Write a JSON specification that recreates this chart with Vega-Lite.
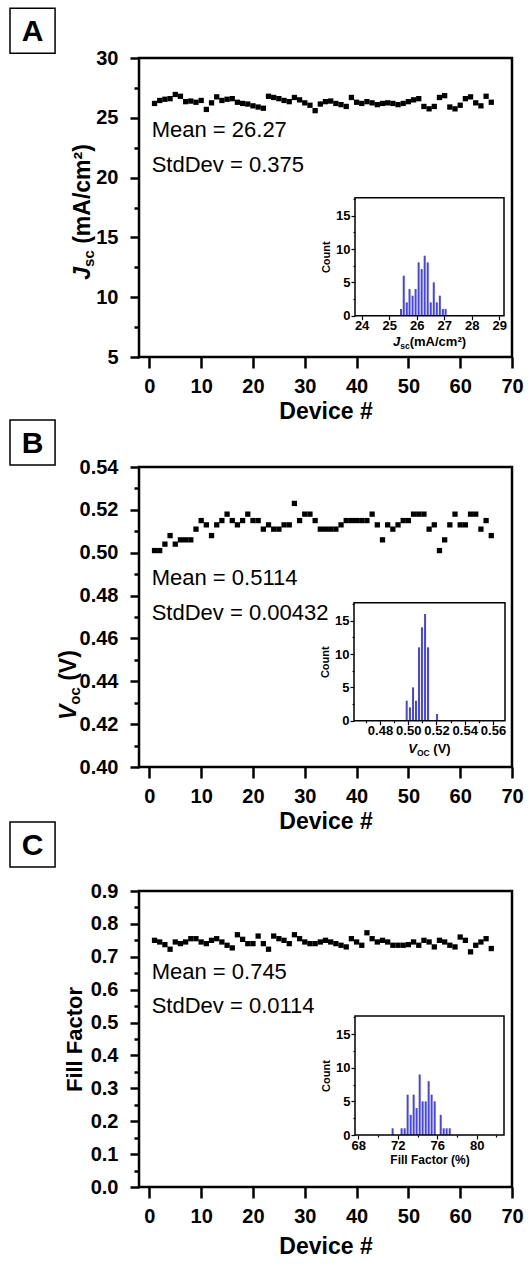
{
  "$schema": "https://vega.github.io/schema/vega-lite/v6.json",
  "width": 373,
  "height": 1272,
  "autosize": {"type": "none"},
  "padding": {"left": 139, "right": 17, "top": 0, "bottom": 0},
  "background": "white",
  "config": {
    "view": {"stroke": null},
    "font": "Liberation Sans",
    "axis": {
      "grid": false, "domain": false, "tickColor": "black", "labelColor": "black", "titleColor": "black",
      "labelFont": "Liberation Sans", "titleFont": "Liberation Sans", "labelFontWeight": "bold", "titleFontWeight": "bold",
      "labelOverlap": false, "labelFlush": false
    },
    "text": {"font": "Liberation Sans", "color": "black"}
  },
  "datasets": {
    "A": [
      {"device":1,"value":26.2},{"device":2,"value":26.45},{"device":3,"value":26.55},{"device":4,"value":26.6},{"device":5,"value":26.95},{"device":6,"value":26.8},{"device":7,"value":26.35},{"device":8,"value":26.4},{"device":9,"value":26.3},{"device":10,"value":26.45},
      {"device":11,"value":25.7},{"device":12,"value":26.25},{"device":13,"value":26.75},{"device":14,"value":26.45},{"device":15,"value":26.55},{"device":16,"value":26.6},{"device":17,"value":26.3},{"device":18,"value":26.2},{"device":19,"value":26.15},{"device":20,"value":26.0},
      {"device":21,"value":25.9},{"device":22,"value":25.8},{"device":23,"value":26.8},{"device":24,"value":26.7},{"device":25,"value":26.6},{"device":26,"value":26.45},{"device":27,"value":26.35},{"device":28,"value":26.7},{"device":29,"value":26.5},{"device":30,"value":26.25},
      {"device":31,"value":26.05},{"device":32,"value":25.6},{"device":33,"value":26.15},{"device":34,"value":26.35},{"device":35,"value":26.4},{"device":36,"value":26.2},{"device":37,"value":26.1},{"device":38,"value":25.95},{"device":39,"value":26.7},{"device":40,"value":26.3},
      {"device":41,"value":26.2},{"device":42,"value":26.35},{"device":43,"value":26.25},{"device":44,"value":26.1},{"device":45,"value":26.2},{"device":46,"value":26.25},{"device":47,"value":26.2},{"device":48,"value":26.1},{"device":49,"value":26.2},{"device":50,"value":26.35},
      {"device":51,"value":26.5},{"device":52,"value":26.6},{"device":53,"value":25.95},{"device":54,"value":25.75},{"device":55,"value":25.95},{"device":56,"value":26.7},{"device":57,"value":26.85},{"device":58,"value":25.9},{"device":59,"value":25.75},{"device":60,"value":26.05},
      {"device":61,"value":26.6},{"device":62,"value":26.75},{"device":63,"value":26.25},{"device":64,"value":26.0},{"device":65,"value":26.8},{"device":66,"value":26.3}
    ],
    "B": [
      {"device":1,"value":0.501},{"device":2,"value":0.501},{"device":3,"value":0.504},{"device":4,"value":0.508},{"device":5,"value":0.504},{"device":6,"value":0.506},{"device":7,"value":0.506},{"device":8,"value":0.506},{"device":9,"value":0.511},{"device":10,"value":0.515},
      {"device":11,"value":0.513},{"device":12,"value":0.508},{"device":13,"value":0.513},{"device":14,"value":0.515},{"device":15,"value":0.518},{"device":16,"value":0.515},{"device":17,"value":0.513},{"device":18,"value":0.515},{"device":19,"value":0.518},{"device":20,"value":0.515},
      {"device":21,"value":0.515},{"device":22,"value":0.511},{"device":23,"value":0.513},{"device":24,"value":0.511},{"device":25,"value":0.511},{"device":26,"value":0.513},{"device":27,"value":0.513},{"device":28,"value":0.523},{"device":29,"value":0.515},{"device":30,"value":0.518},
      {"device":31,"value":0.518},{"device":32,"value":0.515},{"device":33,"value":0.511},{"device":34,"value":0.511},{"device":35,"value":0.511},{"device":36,"value":0.511},{"device":37,"value":0.513},{"device":38,"value":0.515},{"device":39,"value":0.515},{"device":40,"value":0.515},
      {"device":41,"value":0.515},{"device":42,"value":0.515},{"device":43,"value":0.518},{"device":44,"value":0.513},{"device":45,"value":0.506},{"device":46,"value":0.513},{"device":47,"value":0.511},{"device":48,"value":0.513},{"device":49,"value":0.515},{"device":50,"value":0.515},
      {"device":51,"value":0.518},{"device":52,"value":0.518},{"device":53,"value":0.518},{"device":54,"value":0.511},{"device":55,"value":0.513},{"device":56,"value":0.501},{"device":57,"value":0.506},{"device":58,"value":0.513},{"device":59,"value":0.518},{"device":60,"value":0.513},
      {"device":61,"value":0.513},{"device":62,"value":0.518},{"device":63,"value":0.518},{"device":64,"value":0.511},{"device":65,"value":0.515},{"device":66,"value":0.508}
    ],
    "C": [
      {"device":1,"value":0.750},{"device":2,"value":0.745},{"device":3,"value":0.737},{"device":4,"value":0.723},{"device":5,"value":0.745},{"device":6,"value":0.740},{"device":7,"value":0.745},{"device":8,"value":0.755},{"device":9,"value":0.755},{"device":10,"value":0.745},
      {"device":11,"value":0.740},{"device":12,"value":0.750},{"device":13,"value":0.755},{"device":14,"value":0.745},{"device":15,"value":0.735},{"device":16,"value":0.727},{"device":17,"value":0.767},{"device":18,"value":0.753},{"device":19,"value":0.740},{"device":20,"value":0.740},
      {"device":21,"value":0.763},{"device":22,"value":0.740},{"device":23,"value":0.723},{"device":24,"value":0.763},{"device":25,"value":0.755},{"device":26,"value":0.750},{"device":27,"value":0.740},{"device":28,"value":0.767},{"device":29,"value":0.755},{"device":30,"value":0.745},
      {"device":31,"value":0.740},{"device":32,"value":0.740},{"device":33,"value":0.745},{"device":34,"value":0.750},{"device":35,"value":0.745},{"device":36,"value":0.740},{"device":37,"value":0.735},{"device":38,"value":0.730},{"device":39,"value":0.755},{"device":40,"value":0.745},
      {"device":41,"value":0.735},{"device":42,"value":0.773},{"device":43,"value":0.755},{"device":44,"value":0.745},{"device":45,"value":0.750},{"device":46,"value":0.745},{"device":47,"value":0.735},{"device":48,"value":0.735},{"device":49,"value":0.735},{"device":50,"value":0.737},
      {"device":51,"value":0.745},{"device":52,"value":0.735},{"device":53,"value":0.750},{"device":54,"value":0.745},{"device":55,"value":0.730},{"device":56,"value":0.750},{"device":57,"value":0.745},{"device":58,"value":0.735},{"device":59,"value":0.730},{"device":60,"value":0.760},
      {"device":61,"value":0.750},{"device":62,"value":0.715},{"device":63,"value":0.735},{"device":64,"value":0.745},{"device":65,"value":0.755},{"device":66,"value":0.725}
    ],
    "hA": [
      {"bin":25.43,"count":1},{"bin":25.53,"count":6},{"bin":25.64,"count":2},{"bin":25.74,"count":4},{"bin":25.85,"count":3},{"bin":25.96,"count":4},{"bin":26.07,"count":8},{"bin":26.18,"count":7},
      {"bin":26.29,"count":9},{"bin":26.40,"count":8},{"bin":26.51,"count":2},{"bin":26.62,"count":5},{"bin":26.73,"count":2},{"bin":26.84,"count":3},{"bin":26.95,"count":1},{"bin":27.05,"count":1}
    ],
    "hB": [
      {"bin":0.4989,"count":3},{"bin":0.5012,"count":2},{"bin":0.5034,"count":5},{"bin":0.5055,"count":3},{"bin":0.5076,"count":11},{"bin":0.5097,"count":14},{"bin":0.5119,"count":16},{"bin":0.5140,"count":11},{"bin":0.5204,"count":1}
    ],
    "hC": [
      {"bin":71.48,"count":1},{"bin":72.39,"count":1},{"bin":72.70,"count":1},{"bin":73.00,"count":6},{"bin":73.31,"count":3},{"bin":73.61,"count":6},{"bin":73.91,"count":4},{"bin":74.22,"count":9},{"bin":74.52,"count":5},
      {"bin":74.83,"count":5},{"bin":75.13,"count":8},{"bin":75.43,"count":6},{"bin":75.74,"count":5},{"bin":76.35,"count":3},{"bin":76.65,"count":1},{"bin":76.95,"count":1},{"bin":77.26,"count":1}
    ]
  },
  "layer": [
    {
      "layer": [
        {
          "data": {"name": "A"},
          "mark": {"type": "point", "shape": "square", "filled": true, "color": "black", "size": 28, "opacity": 1},
          "encoding": {
            "x": {"field": "device", "type": "quantitative", "scale": {"domain": [-2, 70], "nice": false, "zero": false},
              "axis": {"orient": "bottom", "offset": -915, "values": [0,5,10,15,20,25,30,35,40,45,50,55,60,65,70],
                "labelExpr": "datum.value % 10 === 0 ? datum.label : ''",
                "tickSize": {"condition": {"test": "datum.value % 10 === 0", "value": 11}, "value": 6},
                "tickWidth": 2.5, "labelFontSize": 20, "labelPadding": 8, "title": "Device #", "titleFontSize": 23, "titlePadding": 4}},
            "y": {"field": "value", "type": "quantitative", "scale": {"domain": [5, 30], "range": [357, 58], "nice": false, "zero": false},
              "axis": {"orient": "left", "values": [5,7.5,10,12.5,15,17.5,20,22.5,25,27.5,30],
                "labelExpr": "datum.value % 5 === 0 ? datum.label : ''",
                "tickSize": {"condition": {"test": "datum.value % 5 === 0", "value": 9}, "value": 5},
                "tickWidth": 2.5, "labelFontSize": 20, "labelPadding": 12, "title": null}}
          }
        },
        {"data": {"values": [{}]}, "mark": {"type": "rect", "fillOpacity": 0, "stroke": "black", "strokeWidth": 2.5},
          "encoding": {"x": {"datum": -2}, "x2": {"datum": 70}, "y": {"datum": 5}, "y2": {"datum": 30}}},
        {"data": {"values": [{}]}, "mark": {"type": "text", "text": "Mean = 26.27", "align": "left", "baseline": "alphabetic", "fontSize": 22},
          "encoding": {"x": {"datum": 0.45}, "y": {"datum": 23.4}}},
        {"data": {"values": [{}]}, "mark": {"type": "text", "text": "StdDev = 0.375", "align": "left", "baseline": "alphabetic", "fontSize": 22},
          "encoding": {"x": {"datum": 0.45}, "y": {"datum": 20.47}}},
        {"data": {"values": [{}]}, "mark": {"type": "rect", "fillOpacity": 0, "stroke": "black", "strokeWidth": 1.5},
          "encoding": {"x": {"datum": -26.9}, "x2": {"datum": -18.2}, "y": {"datum": 30.39}, "y2": {"datum": 34.16}}},
        {"data": {"values": [{}]}, "mark": {"type": "text", "text": "A", "align": "center", "baseline": "middle", "fontSize": 30, "fontWeight": "bold", "dy": 1},
          "encoding": {"x": {"datum": -22.55}, "y": {"datum": 32.27}}},
        {"data": {"values": [{}]}, "mark": {"type": "text", "text": "J", "angle": 270, "align": "left", "baseline": "alphabetic", "fontSize": 23, "fontWeight": "bold", "fontStyle": "italic"},
          "encoding": {"x": {"datum": -11.46}, "y": {"datum": 11.46}}},
        {"data": {"values": [{}]}, "mark": {"type": "text", "text": "sc", "angle": 270, "align": "left", "baseline": "alphabetic", "fontSize": 15, "fontWeight": "bold", "dx": 12.8, "dy": 4},
          "encoding": {"x": {"datum": -11.46}, "y": {"datum": 11.46}}},
        {"data": {"values": [{}]}, "mark": {"type": "text", "text": "(mA/cm²)", "angle": 270, "align": "left", "baseline": "alphabetic", "fontSize": 23, "fontWeight": "bold", "dx": 35.9},
          "encoding": {"x": {"datum": -11.46}, "y": {"datum": 11.46}}}
      ]
    },
    {
      "layer": [
        {
          "data": {"name": "hA"},
          "mark": {"type": "rule", "color": "#4545e0", "strokeWidth": 2},
          "encoding": {
            "x": {"field": "bin", "type": "quantitative", "scale": {"domain": [23.76, 29.17], "range": [216, 365], "nice": false, "zero": false},
              "axis": {"orient": "bottom", "offset": -956.3, "values": [24,24.25,24.5,24.75,25,25.25,25.5,25.75,26,26.25,26.5,26.75,27,27.25,27.5,27.75,28,28.25,28.5,28.75,29], "format": "d",
                "labelExpr": "datum.value % 1 === 0 ? datum.label : ''",
                "tickSize": {"condition": {"test": "datum.value % 1 === 0", "value": 4}, "value": 2},
                "tickWidth": 1.2, "labelFontSize": 13, "labelPadding": 0, "title": null}},
            "y": {"field": "count", "type": "quantitative", "scale": {"domain": [0, 17.7], "range": [315.7, 197.7], "nice": false, "zero": false},
              "axis": {"orient": "left", "offset": -216, "values": [0,2.5,5,7.5,10,12.5,15,17.5], "format": "d",
                "labelExpr": "datum.value % 5 === 0 ? datum.label : ''",
                "tickSize": {"condition": {"test": "datum.value % 5 === 0", "value": 4}, "value": 2},
                "tickWidth": 1.2, "labelFontSize": 13, "labelPadding": 1, "title": "Count", "titleFontSize": 11, "titlePadding": 4}},
            "y2": {"datum": 0}
          }
        },
        {"data": {"values": [{}]}, "mark": {"type": "rect", "fillOpacity": 0, "stroke": "black", "strokeWidth": 1.5},
          "encoding": {"x": {"datum": 23.76}, "x2": {"datum": 29.17}, "y": {"datum": 0}, "y2": {"datum": 17.7}}},
        {"data": {"values": [{}]}, "mark": {"type": "text", "text": "J", "align": "left", "baseline": "alphabetic", "fontSize": 13, "fontWeight": "bold", "fontStyle": "italic"},
          "encoding": {"x": {"datum": 25.14}, "y": {"datum": -4.5}}},
        {"data": {"values": [{}]}, "mark": {"type": "text", "text": "sc", "align": "left", "baseline": "alphabetic", "fontSize": 8.5, "fontWeight": "bold", "dx": 7.2, "dy": 3},
          "encoding": {"x": {"datum": 25.14}, "y": {"datum": -4.5}}},
        {"data": {"values": [{}]}, "mark": {"type": "text", "text": "(mA/cm²)", "align": "left", "baseline": "alphabetic", "fontSize": 13, "fontWeight": "bold", "dx": 16.7},
          "encoding": {"x": {"datum": 25.14}, "y": {"datum": -4.5}}}
      ]
    },
    {
      "layer": [
        {
          "data": {"name": "B"},
          "mark": {"type": "point", "shape": "square", "filled": true, "color": "black", "size": 28, "opacity": 1},
          "encoding": {
            "x": {"field": "device", "type": "quantitative", "scale": {"domain": [-2, 70], "nice": false, "zero": false},
              "axis": {"orient": "bottom", "offset": -505, "values": [0,5,10,15,20,25,30,35,40,45,50,55,60,65,70],
                "labelExpr": "datum.value % 10 === 0 ? datum.label : ''",
                "tickSize": {"condition": {"test": "datum.value % 10 === 0", "value": 11}, "value": 6},
                "tickWidth": 2.5, "labelFontSize": 20, "labelPadding": 8, "title": "Device #", "titleFontSize": 23, "titlePadding": 4}},
            "y": {"field": "value", "type": "quantitative", "scale": {"domain": [0.40, 0.54], "range": [767, 467], "nice": false, "zero": false},
              "axis": {"orient": "left", "values": [0.40,0.41,0.42,0.43,0.44,0.45,0.46,0.47,0.48,0.49,0.50,0.51,0.52,0.53,0.54], "format": ".2f",
                "labelExpr": "round(datum.value * 100) % 2 === 0 ? datum.label : ''",
                "tickSize": {"condition": {"test": "round(datum.value * 100) % 2 === 0", "value": 9}, "value": 5},
                "tickWidth": 2.5, "labelFontSize": 20, "labelPadding": 12, "title": null}}
          }
        },
        {"data": {"values": [{}]}, "mark": {"type": "rect", "fillOpacity": 0, "stroke": "black", "strokeWidth": 2.5},
          "encoding": {"x": {"datum": -2}, "x2": {"datum": 70}, "y": {"datum": 0.40}, "y2": {"datum": 0.54}}},
        {"data": {"values": [{}]}, "mark": {"type": "text", "text": "Mean = 0.5114", "align": "left", "baseline": "alphabetic", "fontSize": 22},
          "encoding": {"x": {"datum": 0.45}, "y": {"datum": 0.4849}}},
        {"data": {"values": [{}]}, "mark": {"type": "text", "text": "StdDev = 0.00432", "align": "left", "baseline": "alphabetic", "fontSize": 22},
          "encoding": {"x": {"datum": 0.45}, "y": {"datum": 0.4686}}},
        {"data": {"values": [{}]}, "mark": {"type": "rect", "fillOpacity": 0, "stroke": "black", "strokeWidth": 1.5},
          "encoding": {"x": {"datum": -26.9}, "x2": {"datum": -18.2}, "y": {"datum": 0.5409}, "y2": {"datum": 0.5619}}},
        {"data": {"values": [{}]}, "mark": {"type": "text", "text": "B", "align": "center", "baseline": "middle", "fontSize": 30, "fontWeight": "bold", "dy": 1},
          "encoding": {"x": {"datum": -22.55}, "y": {"datum": 0.5514}}},
        {"data": {"values": [{}]}, "mark": {"type": "text", "text": "V", "angle": 270, "align": "left", "baseline": "alphabetic", "fontSize": 23, "fontWeight": "bold", "fontStyle": "italic"},
          "encoding": {"x": {"datum": -14.16}, "y": {"datum": 0.4219}}},
        {"data": {"values": [{}]}, "mark": {"type": "text", "text": "oc", "angle": 270, "align": "left", "baseline": "alphabetic", "fontSize": 15, "fontWeight": "bold", "dx": 15.3, "dy": 4},
          "encoding": {"x": {"datum": -14.16}, "y": {"datum": 0.4219}}},
        {"data": {"values": [{}]}, "mark": {"type": "text", "text": "(V)", "angle": 270, "align": "left", "baseline": "alphabetic", "fontSize": 23, "fontWeight": "bold", "dx": 39.2},
          "encoding": {"x": {"datum": -14.16}, "y": {"datum": 0.4219}}}
      ]
    },
    {
      "layer": [
        {
          "data": {"name": "hB"},
          "mark": {"type": "rule", "color": "#4545e0", "strokeWidth": 2},
          "encoding": {
            "x": {"field": "bin", "type": "quantitative", "scale": {"domain": [0.4616, 0.5685], "range": [215, 366], "nice": false, "zero": false},
              "axis": {"orient": "bottom", "offset": -551.3, "values": [0.47,0.48,0.49,0.50,0.51,0.52,0.53,0.54,0.55,0.56], "format": ".2f",
                "labelExpr": "round(datum.value * 100) % 2 === 0 ? datum.label : ''",
                "tickSize": {"condition": {"test": "round(datum.value * 100) % 2 === 0", "value": 4}, "value": 2},
                "tickWidth": 1.2, "labelFontSize": 13, "labelPadding": 0, "title": null}},
            "y": {"field": "count", "type": "quantitative", "scale": {"domain": [0, 17.7], "range": [720.7, 602.7], "nice": false, "zero": false},
              "axis": {"orient": "left", "offset": -215, "values": [0,2.5,5,7.5,10,12.5,15,17.5], "format": "d",
                "labelExpr": "datum.value % 5 === 0 ? datum.label : ''",
                "tickSize": {"condition": {"test": "datum.value % 5 === 0", "value": 4}, "value": 2},
                "tickWidth": 1.2, "labelFontSize": 13, "labelPadding": 1, "title": "Count", "titleFontSize": 11, "titlePadding": 4}},
            "y2": {"datum": 0}
          }
        },
        {"data": {"values": [{}]}, "mark": {"type": "rect", "fillOpacity": 0, "stroke": "black", "strokeWidth": 1.5},
          "encoding": {"x": {"datum": 0.4616}, "x2": {"datum": 0.5685}, "y": {"datum": 0}, "y2": {"datum": 17.7}}},
        {"data": {"values": [{}]}, "mark": {"type": "text", "text": "V", "align": "left", "baseline": "alphabetic", "fontSize": 13, "fontWeight": "bold", "fontStyle": "italic"},
          "encoding": {"x": {"datum": 0.5}, "y": {"datum": -4.8}}},
        {"data": {"values": [{}]}, "mark": {"type": "text", "text": "OC", "align": "left", "baseline": "alphabetic", "fontSize": 8.5, "fontWeight": "bold", "dx": 8.7, "dy": 3},
          "encoding": {"x": {"datum": 0.5}, "y": {"datum": -4.8}}},
        {"data": {"values": [{}]}, "mark": {"type": "text", "text": "(V)", "align": "left", "baseline": "alphabetic", "fontSize": 13, "fontWeight": "bold", "dx": 25.1},
          "encoding": {"x": {"datum": 0.5}, "y": {"datum": -4.8}}}
      ]
    },
    {
      "layer": [
        {
          "data": {"name": "C"},
          "mark": {"type": "point", "shape": "square", "filled": true, "color": "black", "size": 28, "opacity": 1},
          "encoding": {
            "x": {"field": "device", "type": "quantitative", "scale": {"domain": [-2, 70], "nice": false, "zero": false},
              "axis": {"orient": "bottom", "offset": -85, "values": [0,5,10,15,20,25,30,35,40,45,50,55,60,65,70],
                "labelExpr": "datum.value % 10 === 0 ? datum.label : ''",
                "tickSize": {"condition": {"test": "datum.value % 10 === 0", "value": 11}, "value": 6},
                "tickWidth": 2.5, "labelFontSize": 20, "labelPadding": 8, "title": "Device #", "titleFontSize": 23, "titlePadding": 9}},
            "y": {"field": "value", "type": "quantitative", "scale": {"domain": [0, 0.9], "range": [1187, 891], "nice": false, "zero": false},
              "axis": {"orient": "left", "values": [0,0.05,0.1,0.15,0.2,0.25,0.3,0.35,0.4,0.45,0.5,0.55,0.6,0.65,0.7,0.75,0.8,0.85,0.9], "format": ".1f",
                "labelExpr": "round(datum.value * 100) % 10 === 0 ? datum.label : ''",
                "tickSize": {"condition": {"test": "round(datum.value * 100) % 10 === 0", "value": 9}, "value": 5},
                "tickWidth": 2.5, "labelFontSize": 20, "labelPadding": 12, "title": "Fill Factor", "titleFontSize": 22, "titlePadding": 4}}
          }
        },
        {"data": {"values": [{}]}, "mark": {"type": "rect", "fillOpacity": 0, "stroke": "black", "strokeWidth": 2.5},
          "encoding": {"x": {"datum": -2}, "x2": {"datum": 70}, "y": {"datum": 0}, "y2": {"datum": 0.9}}},
        {"data": {"values": [{}]}, "mark": {"type": "text", "text": "Mean = 0.745", "align": "left", "baseline": "alphabetic", "fontSize": 22},
          "encoding": {"x": {"datum": 0.45}, "y": {"datum": 0.6325}}},
        {"data": {"values": [{}]}, "mark": {"type": "text", "text": "StdDev = 0.0114", "align": "left", "baseline": "alphabetic", "fontSize": 22},
          "encoding": {"x": {"datum": 0.45}, "y": {"datum": 0.529}}},
        {"data": {"values": [{}]}, "mark": {"type": "rect", "fillOpacity": 0, "stroke": "black", "strokeWidth": 1.5},
          "encoding": {"x": {"datum": -26.9}, "x2": {"datum": -18.2}, "y": {"datum": 0.973}, "y2": {"datum": 1.1097}}},
        {"data": {"values": [{}]}, "mark": {"type": "text", "text": "C", "align": "center", "baseline": "middle", "fontSize": 30, "fontWeight": "bold", "dy": 1},
          "encoding": {"x": {"datum": -22.55}, "y": {"datum": 1.0413}}}
      ]
    },
    {
      "layer": [
        {
          "data": {"name": "hC"},
          "mark": {"type": "rule", "color": "#4545e0", "strokeWidth": 2},
          "encoding": {
            "x": {"field": "bin", "type": "quantitative", "scale": {"domain": [67.67, 82.76], "range": [216, 365], "nice": false, "zero": false},
              "axis": {"orient": "bottom", "offset": -137, "values": [68,69,70,71,72,73,74,75,76,77,78,79,80,81,82], "format": "d",
                "labelExpr": "datum.value % 4 === 0 ? datum.label : ''",
                "tickSize": {"condition": {"test": "datum.value % 4 === 0", "value": 4}, "value": 2},
                "tickWidth": 1.2, "labelFontSize": 13, "labelPadding": 0, "title": "Fill Factor (%)", "titleFontSize": 12, "titlePadding": 2}},
            "y": {"field": "count", "type": "quantitative", "scale": {"domain": [0, 17.7], "range": [1135, 1016], "nice": false, "zero": false},
              "axis": {"orient": "left", "offset": -216, "values": [0,2.5,5,7.5,10,12.5,15,17.5], "format": "d",
                "labelExpr": "datum.value % 5 === 0 ? datum.label : ''",
                "tickSize": {"condition": {"test": "datum.value % 5 === 0", "value": 4}, "value": 2},
                "tickWidth": 1.2, "labelFontSize": 13, "labelPadding": 1, "title": "Count", "titleFontSize": 11, "titlePadding": 4}},
            "y2": {"datum": 0}
          }
        },
        {"data": {"values": [{}]}, "mark": {"type": "rect", "fillOpacity": 0, "stroke": "black", "strokeWidth": 1.5},
          "encoding": {"x": {"datum": 67.67}, "x2": {"datum": 82.76}, "y": {"datum": 0}, "y2": {"datum": 17.7}}}
      ]
    }
  ],
  "resolve": {"scale": {"x": "independent", "y": "independent"}, "axis": {"x": "independent", "y": "independent"}}
}
